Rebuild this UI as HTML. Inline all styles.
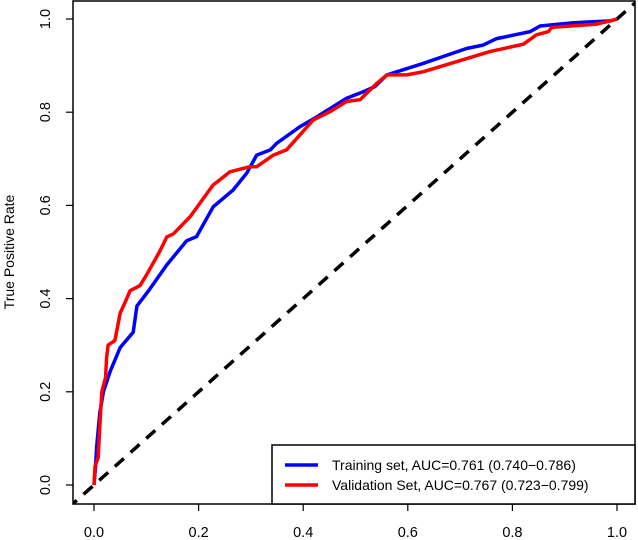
<!DOCTYPE html>
<html><head><meta charset="utf-8">
<style>
html,body{margin:0;padding:0;background:#fff;}
svg{display:block;font-family:"Liberation Sans",Arial,sans-serif;}
</style></head>
<body>
<svg id="chart" width="638" height="540" viewBox="0 0 638 540" xmlns="http://www.w3.org/2000/svg">
  <defs><clipPath id="clip"><rect x="73" y="1" width="562" height="503"/></clipPath></defs>
  <g id="series" clip-path="url(#clip)"></g>
  <rect x="73" y="1" width="562" height="503" fill="none" stroke="#000" stroke-width="1.5"/>
  <g id="axes"></g>
  <text transform="translate(14,252) rotate(-90)" text-anchor="middle" font-size="14">True Positive Rate</text>
  <g>
    <rect x="272" y="445" width="363" height="59" fill="#fff" stroke="#000" stroke-width="1.5"/>
    <line x1="285" y1="465" x2="318" y2="465" stroke="#0000ff" stroke-width="3.5"/>
    <text x="332" y="470" font-size="14">Training set, AUC=0.761 (0.740−0.786)</text>
    <line x1="285" y1="485" x2="318" y2="485" stroke="#ff0000" stroke-width="3.5"/>
    <text x="332" y="490" font-size="14">Validation Set, AUC=0.767 (0.723−0.799)</text>
  </g>
</svg>
<script>
const xTicks = [0, 0.2, 0.4, 0.6, 0.8, 1.0];
const yTicks = [0, 0.2, 0.4, 0.6, 0.8, 1.0];
const tickLabels = ["0.0", "0.2", "0.4", "0.6", "0.8", "1.0"];
const trainFPR = [0, 0.003, 0.005, 0.011, 0.018, 0.031, 0.050, 0.075, 0.082, 0.107, 0.139, 0.177, 0.196, 0.228, 0.266, 0.292, 0.311, 0.337, 0.349, 0.394, 0.426, 0.483, 0.515, 0.537, 0.560, 0.630, 0.713, 0.744, 0.770, 0.834, 0.853, 0.917, 0.987, 1];
const trainTPR = [0, 0.04, 0.08, 0.155, 0.20, 0.244, 0.295, 0.328, 0.384, 0.421, 0.472, 0.524, 0.533, 0.597, 0.633, 0.669, 0.708, 0.719, 0.733, 0.769, 0.790, 0.830, 0.844, 0.855, 0.880, 0.905, 0.937, 0.944, 0.958, 0.973, 0.985, 0.992, 0.996, 1];
const validFPR = [0, 0.002, 0.008, 0.011, 0.015, 0.022, 0.024, 0.027, 0.040, 0.050, 0.059, 0.069, 0.088, 0.100, 0.126, 0.139, 0.152, 0.177, 0.184, 0.228, 0.235, 0.260, 0.298, 0.311, 0.343, 0.368, 0.388, 0.419, 0.451, 0.483, 0.509, 0.541, 0.560, 0.598, 0.630, 0.757, 0.821, 0.846, 0.869, 0.875, 0.961, 0.987, 1];
const validTPR = [0, 0.04, 0.059, 0.125, 0.20, 0.23, 0.273, 0.30, 0.31, 0.369, 0.391, 0.417, 0.428, 0.45, 0.502, 0.532, 0.539, 0.568, 0.576, 0.644, 0.650, 0.672, 0.683, 0.683, 0.708, 0.719, 0.744, 0.783, 0.801, 0.823, 0.827, 0.862, 0.880, 0.880, 0.887, 0.930, 0.946, 0.966, 0.973, 0.982, 0.989, 0.996, 1];
const refLine = [-0.05, 1.05];

const NS = "http://www.w3.org/2000/svg";
const X0 = 94, XW = 523, Y0 = 485, YH = 466;
function sx(v){ return X0 + v * XW; }
function sy(v){ return Y0 - v * YH; }

const series = document.getElementById('series');
const axes = document.getElementById('axes');

const diag = document.createElementNS(NS, 'line');


diag.setAttribute('x1', sx(refLine[0])); diag.setAttribute('y1', sy(refLine[0]));
diag.setAttribute('x2', sx(refLine[1])); diag.setAttribute('y2', sy(refLine[1]));
diag.setAttribute('stroke', '#000'); diag.setAttribute('stroke-width', '3.5');
diag.setAttribute('stroke-dasharray', '12 9');
series.appendChild(diag);

function drawLine(xs, ys, color, name){
  const p = document.createElementNS(NS, 'polyline');
  
  
  p.setAttribute('points', xs.map((x,i)=>sx(x).toFixed(1)+','+sy(ys[i]).toFixed(1)).join(' '));
  p.setAttribute('fill', 'none'); p.setAttribute('stroke', color);
  p.setAttribute('stroke-width', '3.5'); p.setAttribute('stroke-linejoin', 'round');
  series.appendChild(p);
}
drawLine(trainFPR, trainTPR, '#0000ff', 'training-roc-curve');
drawLine(validFPR, validTPR, '#ff0000', 'validation-roc-curve');

xTicks.forEach((t,i)=>{
  const l = document.createElementNS(NS, 'line');
  
  
  l.setAttribute('x1', sx(t)); l.setAttribute('x2', sx(t));
  l.setAttribute('y1', 504); l.setAttribute('y2', 511);
  l.setAttribute('stroke', '#000'); l.setAttribute('stroke-width', '1.2');
  axes.appendChild(l);
  const tx = document.createElementNS(NS, 'text');
  
  
  tx.setAttribute('x', sx(t)); tx.setAttribute('y', 537);
  tx.setAttribute('text-anchor', 'middle'); tx.setAttribute('font-size', '14.5');
  tx.textContent = tickLabels[i];
  axes.appendChild(tx);
});
yTicks.forEach((t,i)=>{
  const l = document.createElementNS(NS, 'line');
  
  
  l.setAttribute('x1', 66); l.setAttribute('x2', 73);
  l.setAttribute('y1', sy(t)); l.setAttribute('y2', sy(t));
  l.setAttribute('stroke', '#000'); l.setAttribute('stroke-width', '1.2');
  axes.appendChild(l);
  const tx = document.createElementNS(NS, 'text');
  
  
  tx.setAttribute('transform', 'translate(50,' + sy(t) + ') rotate(-90)');
  tx.setAttribute('text-anchor', 'middle'); tx.setAttribute('font-size', '14.5');
  tx.textContent = tickLabels[i];
  axes.appendChild(tx);
});
</script>
</body></html>
